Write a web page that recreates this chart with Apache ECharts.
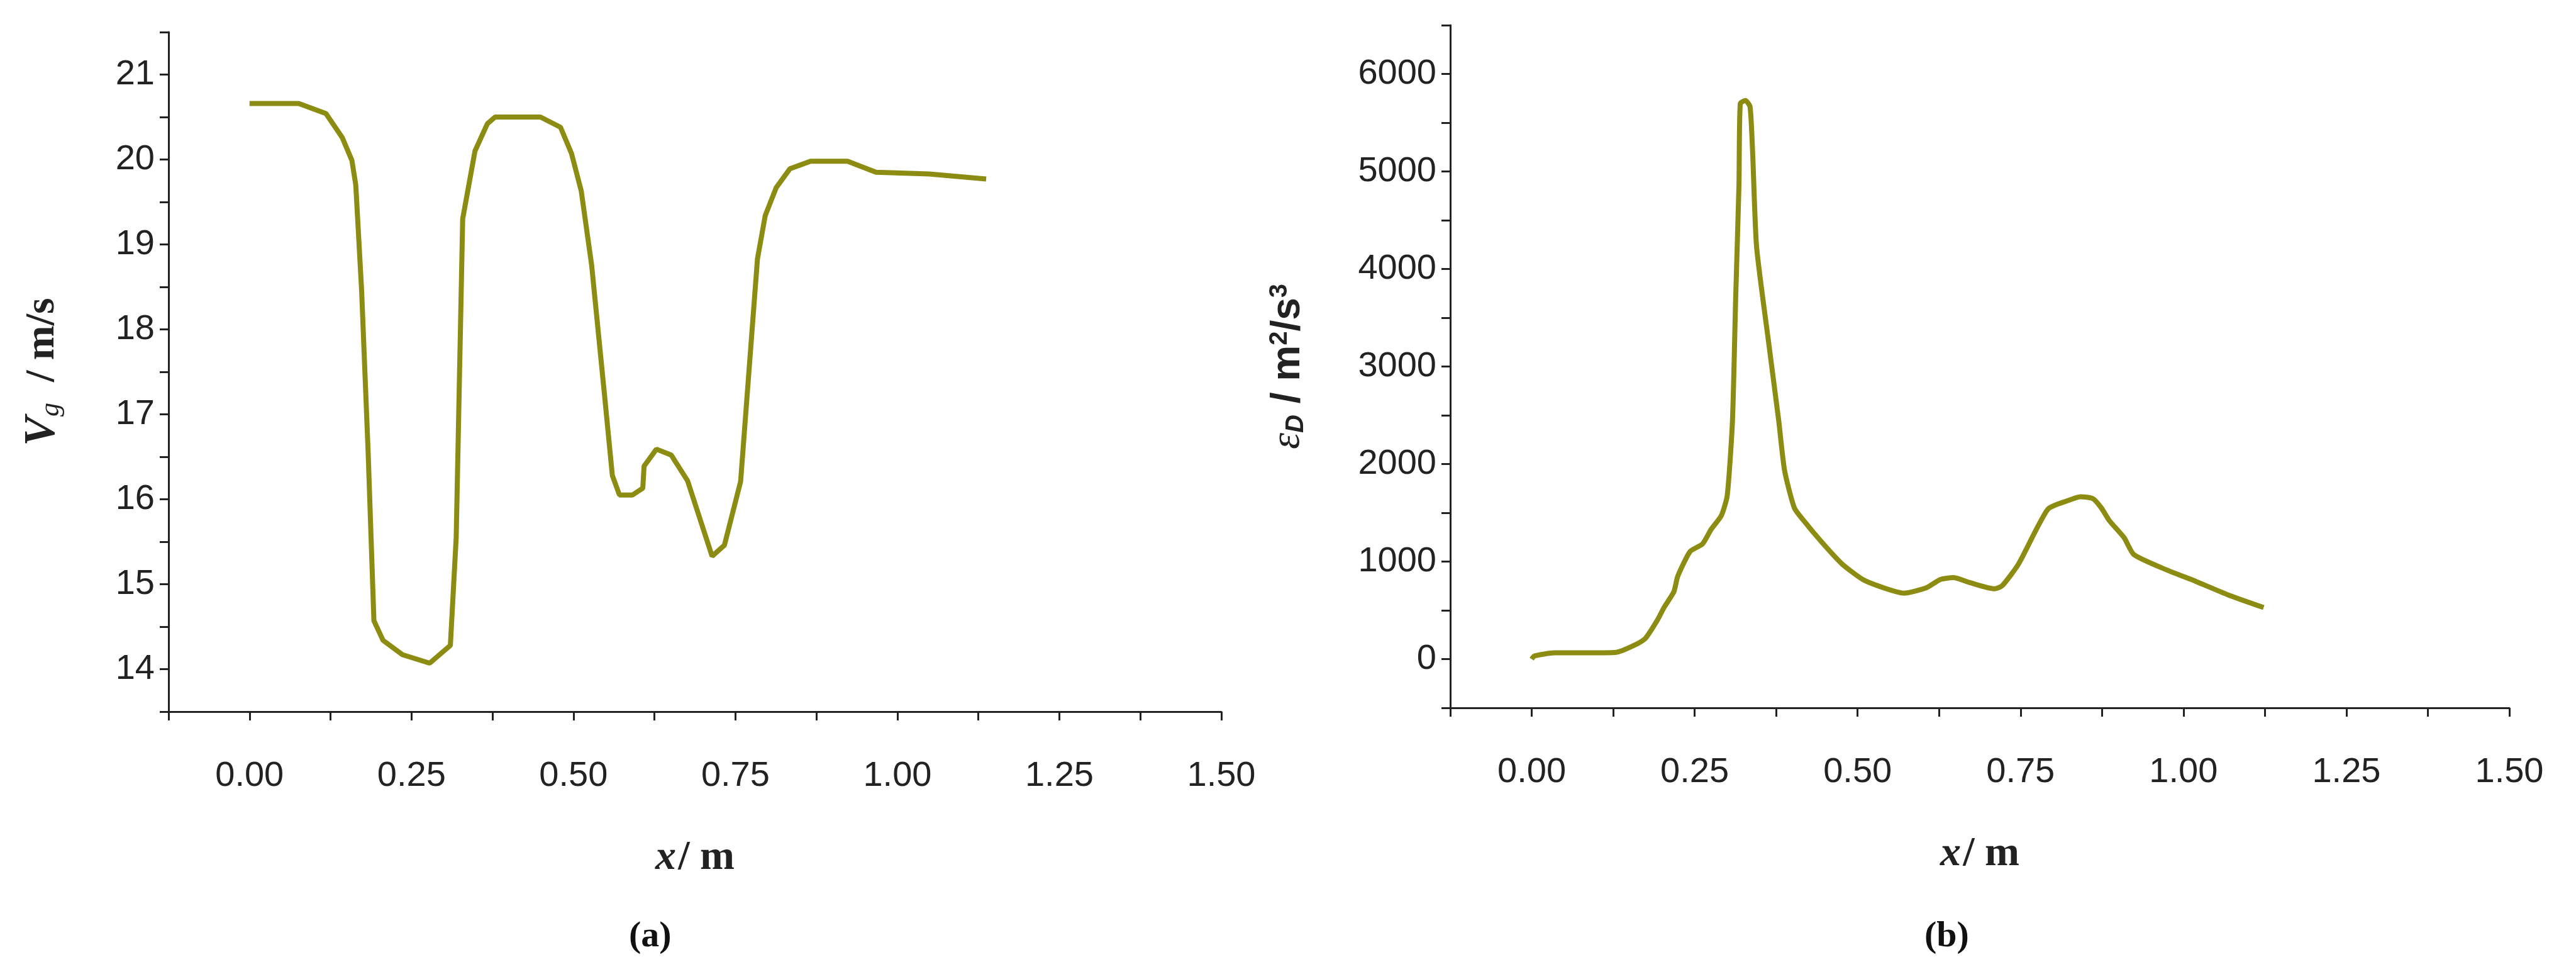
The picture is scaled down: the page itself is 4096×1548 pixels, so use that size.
<!doctype html>
<html>
<head>
<meta charset="utf-8">
<script src="https://cdn.jsdelivr.net/npm/echarts@6/dist/echarts.min.js"></script>
<style>html,body{margin:0;background:#fff}#c{width:4096px;height:1548px}</style>
</head>
<body>
<div id="c"></div>
<script>
// (a) gas velocity along x
var xA = [0, 0.076, 0.118, 0.143, 0.158, 0.164, 0.173, 0.183, 0.192, 0.206, 0.236, 0.278, 0.310, 0.319, 0.329, 0.348, 0.367, 0.379, 0.411, 0.449, 0.480, 0.497, 0.512, 0.528, 0.547, 0.560, 0.571, 0.591, 0.607, 0.609, 0.628, 0.651, 0.676, 0.714, 0.733, 0.758, 0.784, 0.796, 0.813, 0.834, 0.866, 0.923, 0.967, 1.049, 1.137];
var vg = [20.66, 20.66, 20.54, 20.26, 19.99, 19.70, 18.46, 16.57, 14.57, 14.34, 14.17, 14.07, 14.28, 15.55, 19.30, 20.10, 20.42, 20.50, 20.50, 20.50, 20.38, 20.07, 19.63, 18.76, 17.30, 16.28, 16.05, 16.05, 16.13, 16.39, 16.59, 16.52, 16.22, 15.33, 15.46, 16.21, 18.83, 19.34, 19.67, 19.89, 19.98, 19.98, 19.85, 19.83, 19.77];
// (b) dissipation rate along x
var xB = [0, 0.004, 0.035, 0.079, 0.13, 0.155, 0.174, 0.193, 0.203, 0.218, 0.224, 0.243, 0.262, 0.275, 0.291, 0.300, 0.308, 0.313, 0.318, 0.320, 0.328, 0.335, 0.339, 0.345, 0.363, 0.379, 0.388, 0.403, 0.417, 0.445, 0.476, 0.508, 0.539, 0.571, 0.606, 0.627, 0.647, 0.672, 0.710, 0.722, 0.747, 0.792, 0.823, 0.842, 0.861, 0.874, 0.886, 0.909, 0.924, 0.975, 1.012, 1.069, 1.123];
var epsD = [0, 32, 64, 64, 70, 134, 210, 402, 529, 689, 848, 1103, 1180, 1327, 1473, 1677, 2443, 3718, 4866, 5695, 5727, 5663, 5185, 4228, 3272, 2443, 1932, 1550, 1422, 1199, 976, 816, 733, 676, 733, 816, 835, 784, 721, 753, 976, 1537, 1626, 1665, 1645, 1550, 1422, 1244, 1071, 912, 816, 657, 529];

var lineColor = '#8c8c12';
var tickFont = {fontFamily: 'Liberation Sans', fontSize: 56, color: '#222', margin: 75};
function zip(a, b) { return a.map(function (v, i) { return [v, b[i]]; }); }

function xAxisOf(gi) {
    return {
        gridIndex: gi, type: 'value', min: -0.125, max: 1.5, interval: 0.125,
        axisLine: {onZero: false, lineStyle: {color: '#222', width: 3}},
        axisTick: {length: 14, lineStyle: {color: '#222', width: 3}},
        splitLine: {show: false},
        axisLabel: Object.assign({
            formatter: function (v) {
                var r = Math.round(v * 1000);
                return (r >= 0 && r % 250 === 0) ? v.toFixed(2) : '';
            }
        }, tickFont),
        name: '{i|x} {b|/ m}', nameLocation: 'middle', nameGap: 200,
        nameTextStyle: {rich: {
            i: {fontFamily: 'Liberation Serif', fontStyle: 'italic', fontWeight: 'bold', fontSize: 66, color: '#222'},
            b: {fontFamily: 'Liberation Serif', fontWeight: 'bold', fontSize: 66, color: '#222'}
        }}
    };
}

var serif = 'Liberation Serif';
echarts.init(document.getElementById('c')).setOption({
    animation: false,
    grid: [
        {left: 268, top: 51, width: 1674, height: 1080},
        {left: 2306, top: 40, width: 1684, height: 1085}
    ],
    xAxis: [xAxisOf(0), xAxisOf(1)],
    yAxis: [{
        gridIndex: 0, type: 'value', min: 13.5, max: 21.5, interval: 0.5,
        axisLine: {show: true, onZero: false, lineStyle: {color: '#222', width: 3}},
        axisTick: {show: true, length: 14, lineStyle: {color: '#222', width: 3}},
        splitLine: {show: false},
        axisLabel: Object.assign({}, tickFont, {margin: 22, formatter: function (v) { return v % 1 === 0 ? String(v) : ''; }}),
        name: '{v|V}{s|g}{b|  / m/s}', nameLocation: 'middle', nameGap: 165, nameRotate: 90,
        nameTextStyle: {rich: {
            v: {fontFamily: serif, fontStyle: 'italic', fontWeight: 'bold', fontSize: 70, color: '#222'},
            s: {fontFamily: serif, fontStyle: 'italic', fontSize: 44, color: '#222', verticalAlign: 'bottom'},
            b: {fontFamily: serif, fontWeight: 'bold', fontSize: 66, color: '#222'}
        }}
    }, {
        gridIndex: 1, type: 'value', min: -500, max: 6500, interval: 500,
        axisLine: {show: true, onZero: false, lineStyle: {color: '#222', width: 3}},
        axisTick: {show: true, length: 14, lineStyle: {color: '#222', width: 3}},
        splitLine: {show: false},
        axisLabel: Object.assign({}, tickFont, {margin: 22, formatter: function (v) { return v >= 0 && v % 1000 === 0 ? String(v) : ''; }}),
        name: '{e|ε}{d|D}{b| / m}{p|2}{b|/s}{p|3}', nameLocation: 'middle', nameGap: 225, nameRotate: 90,
        nameTextStyle: {rich: {
            e: {fontFamily: serif, fontStyle: 'italic', fontSize: 66, color: '#222'},
            d: {fontFamily: 'Liberation Sans', fontStyle: 'italic', fontWeight: 'bold', fontSize: 40, color: '#222', verticalAlign: 'bottom'},
            b: {fontFamily: 'Liberation Sans', fontWeight: 'bold', fontSize: 64, color: '#222'},
            p: {fontFamily: 'Liberation Sans', fontWeight: 'bold', fontSize: 40, color: '#222', verticalAlign: 'top'}
        }}
    }],
    series: [
        {type: 'line', xAxisIndex: 0, yAxisIndex: 0, data: zip(xA, vg), showSymbol: false, lineStyle: {color: lineColor, width: 8}},
        {type: 'line', xAxisIndex: 1, yAxisIndex: 1, data: zip(xB, epsD), smooth: 0.2, showSymbol: false, lineStyle: {color: lineColor, width: 8}}
    ],
    graphic: [
        {type: 'text', left: 1000, top: 1460, style: {text: '(a)', font: 'bold 58px "Liberation Serif"', fill: '#111'}},
        {type: 'text', left: 3060, top: 1460, style: {text: '(b)', font: 'bold 58px "Liberation Serif"', fill: '#111'}}
    ]
});
</script>
</body>
</html>
